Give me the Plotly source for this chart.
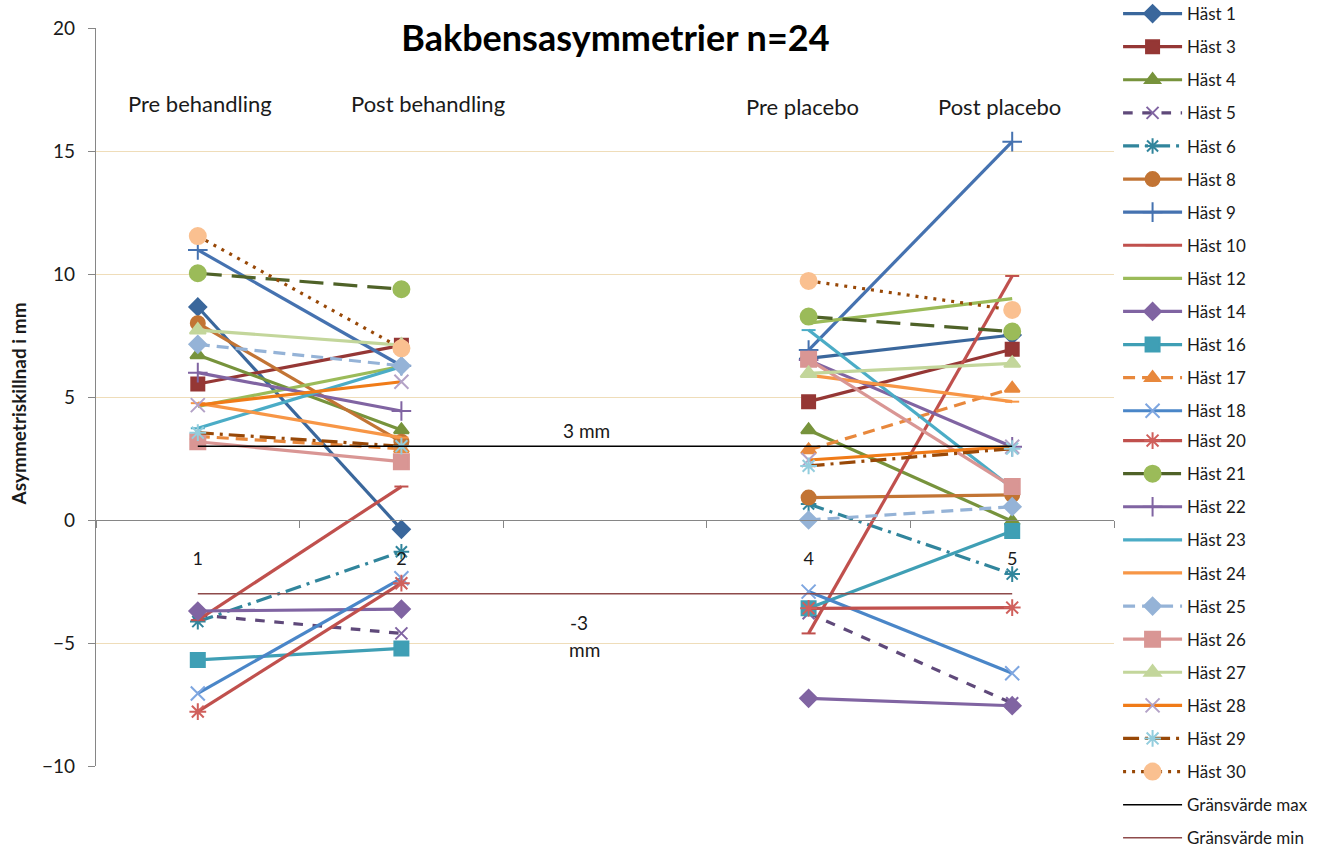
import plotly.graph_objects as go

# ---------------- data ----------------
categories = [1, 2, 3, 4, 5]
x_tick_labels = ["1", "2", "", "4", "5"]

horse_names = ["Häst 1", "Häst 3", "Häst 4", "Häst 5", "Häst 6", "Häst 8", "Häst 9",
               "Häst 10", "Häst 12", "Häst 14", "Häst 16", "Häst 17", "Häst 18",
               "Häst 20", "Häst 21", "Häst 22", "Häst 23", "Häst 24", "Häst 25",
               "Häst 26", "Häst 27", "Häst 28", "Häst 29", "Häst 30"]

pre_behandling = [8.66, 5.53, 6.71, -3.86, -4.13, 8.0, 10.98, -4.07, 4.62, -3.7, -5.69, 3.4,
                  -7.05, -7.79, 10.03, 5.99, 3.73, 4.75, 7.14, 3.18, 7.72, 4.67, 3.55, 11.54]
post_behandling = [-0.38, 7.1, 3.66, -4.61, -1.29, 3.18, 6.27, 1.36, 6.25, -3.62, -5.22, 2.9,
                   -2.37, -2.57, 9.38, 4.43, 6.23, 3.35, 6.27, 2.37, 7.11, 5.62, 3.0, 6.98]
pre_placebo = [6.57, 4.81, 3.66, -3.79, 0.65, 0.91, 6.91, -4.61, 8.0, -7.25, -3.59, 2.85,
               -2.91, -3.59, 8.27, 6.5, 7.72, 5.89, 0.0, 6.53, 5.96, 2.44, 2.2, 9.72]
post_placebo = [7.52, 6.94, -0.05, -7.45, -2.2, 1.02, 15.38, 9.92, 9.0, -7.55, -0.45, 5.35,
                -6.23, -3.56, 7.66, 2.98, 1.3, 4.81, 0.54, 1.36, 6.37, 2.98, 2.9, 8.54]

limit_names = ["Gränsvärde max", "Gränsvärde min"]
limit_max = [3, 3, 3, 3, 3]
limit_min = [-3, -3, -3, -3, -3]

period_labels = ["Pre behandling", "Post behandling", "Pre placebo", "Post placebo"]
period_label_x = [1.01, 2.13, 3.97, 4.94]
period_label_y = [16.95, 16.95, 16.79, 16.79]

# ---------------- styles ----------------
# (line colour, dash, marker symbol, marker colour, marker size)
styles = [
    ("#3A679C", "solid", "diamond", "#3A679C", 13),
    ("#953735", "solid", "square", "#953735", 13),
    ("#77933C", "solid", "triangle-up", "#77933C", 13),
    ("#5F497A", "dash", "x-thin-open", "#8064A2", 12),
    ("#31859C", "16px,6px,3px,6px", "asterisk-open", "#31859C", 13),
    ("#C27434", "solid", "circle", "#C27434", 14),
    ("#4572B0", "solid", "cross-thin-open", "#4572B0", 14),
    ("#C0504D", "solid", "line-ew-open", "#C0504D", 10),
    ("#9BBB59", "solid", None, "#9BBB59", 1),
    ("#8064A2", "solid", "diamond", "#8064A2", 13),
    ("#3F9FB5", "solid", "square", "#3F9FB5", 14),
    ("#E8883C", "12px,7px", "triangle-up", "#E8883C", 13),
    ("#4A86C8", "solid", "x-thin-open", "#7EA6E0", 14),
    ("#C0504D", "solid", "asterisk-open", "#D0605C", 14),
    ("#4F6228", "24px,10px", "circle", "#9BBB59", 16),
    ("#8064A2", "solid", "cross-thin-open", "#8064A2", 14),
    ("#4BACC6", "solid", "line-ew-open", "#4BACC6", 10),
    ("#F79646", "solid", "line-ew-open", "#F79646", 10),
    ("#95B3D7", "12px,7px", "diamond", "#95B3D7", 13),
    ("#D99694", "solid", "square", "#D99694", 15),
    ("#C3D69B", "solid", "triangle-up", "#C3D69B", 14),
    ("#F07B18", "solid", "x-thin-open", "#B3A2C7", 14),
    ("#984807", "16px,6px,3px,6px", "asterisk-open", "#93CDDD", 14),
    ("#984807", "3px,6px", "circle", "#FAC090", 16),
]
limit_colors = ["#000000", "#8E4B4B"]

FONT = "Lato, 'Open Sans', sans-serif"
TEXT_COLOR = "#1a1a1a"
FIRST_LEGEND_COUNT = 13

fig = go.Figure()

for i, name in enumerate(horse_names):
    lc, dash, sym, mc, ms = styles[i]
    y = [pre_behandling[i], post_behandling[i], None, pre_placebo[i], post_placebo[i]]
    if sym is None:
        mode = "lines"
        marker = None
    else:
        mode = "lines+markers"
        marker = dict(symbol=sym, color=mc, size=ms, line=dict(color=mc, width=2))
    fig.add_trace(go.Scatter(
        x=categories, y=y, name=name, mode=mode, legendgroup=name,
        legend="legend" if i < FIRST_LEGEND_COUNT else "legend2",
        line=dict(color=lc, width=3.2, dash=dash), marker=marker,
        connectgaps=False, hoverinfo="skip",
    ))

for name, vals, col in zip(limit_names, [limit_max, limit_min], limit_colors):
    fig.add_trace(go.Scatter(
        x=categories, y=vals, name=name, mode="lines", legendgroup=name, legend="legend2",
        line=dict(color=col, width=1.5), hoverinfo="skip",
    ))

annotations = []
for txt, ax, ay in zip(period_labels, period_label_x, period_label_y):
    annotations.append(dict(x=ax, y=ay, xref="x", yref="y", text=txt, showarrow=False,
                            font=dict(size=22, family=FONT, color=TEXT_COLOR)))
annotations.append(dict(x=2.907, y=3.62, xref="x", yref="y", text="3 mm", showarrow=False,
                        font=dict(size=19, family=FONT, color=TEXT_COLOR)))
annotations.append(dict(x=2.87, y=-4.15, xref="x", yref="y", text="-3", showarrow=False,
                        font=dict(size=19, family=FONT, color=TEXT_COLOR)))
annotations.append(dict(x=2.90, y=-5.25, xref="x", yref="y", text="mm", showarrow=False,
                        font=dict(size=19, family=FONT, color=TEXT_COLOR)))
annotations.append(dict(x=-0.0766, y=0.49, xref="paper", yref="paper", xanchor="center",
                        yanchor="middle", text="<b>Asymmetriskillnad i mm</b>", textangle=-90,
                        showarrow=False, font=dict(size=19, family=FONT, color=TEXT_COLOR)))

legend_common = dict(x=1.004, xanchor="left", yanchor="top", tracegroupgap=8,
                     font=dict(size=17, family=FONT, color=TEXT_COLOR),
                     bgcolor="rgba(0,0,0,0)", itemwidth=59, maxheight=600)

fig.update_layout(
    width=1332, height=847,
    margin=dict(l=96, r=218, t=28, b=81, autoexpand=False),
    paper_bgcolor="white", plot_bgcolor="white",
    font=dict(family=FONT, color=TEXT_COLOR),
    title=dict(text="<b>Bakbensasymmetrier n=24</b>", x=0.462, xref="container",
               xanchor="center", y=1 - 38 / 847, yref="container", yanchor="middle",
               font=dict(size=36, family=FONT, color="#000000")),
    xaxis=dict(range=[0.5, 5.5], anchor="free", position=1 / 3, showline=True,
               linecolor="#868686", linewidth=1.3, showgrid=False, zeroline=False,
               tickmode="array", tickvals=categories, ticktext=x_tick_labels, ticks="",
               ticklabelstandoff=22, tickfont=dict(size=18, family=FONT, color=TEXT_COLOR),
               minor=dict(ticks="outside", tick0=0.5, dtick=1, ticklen=7,
                          tickcolor="#868686", showgrid=False)),
    yaxis=dict(range=[-10, 20], tickvals=[-10, -5, 0, 5, 10, 15, 20], showline=True,
               linecolor="#868686", linewidth=1.3, ticks="outside", ticklen=7,
               tickcolor="#868686", gridcolor="#EFDDB9", gridwidth=1.3, zeroline=False,
               ticklabelstandoff=9, tickfont=dict(size=19, family=FONT, color=TEXT_COLOR)),
    legend=dict(y=1 + 32 / 738, **legend_common),
    legend2=dict(y=(766 - 423) / 738, **legend_common),
    annotations=annotations,
    showlegend=True,
)

fig.write_html("out.html", config={"displayModeBar": False},
               post_script="document.body.style.margin='0';")
